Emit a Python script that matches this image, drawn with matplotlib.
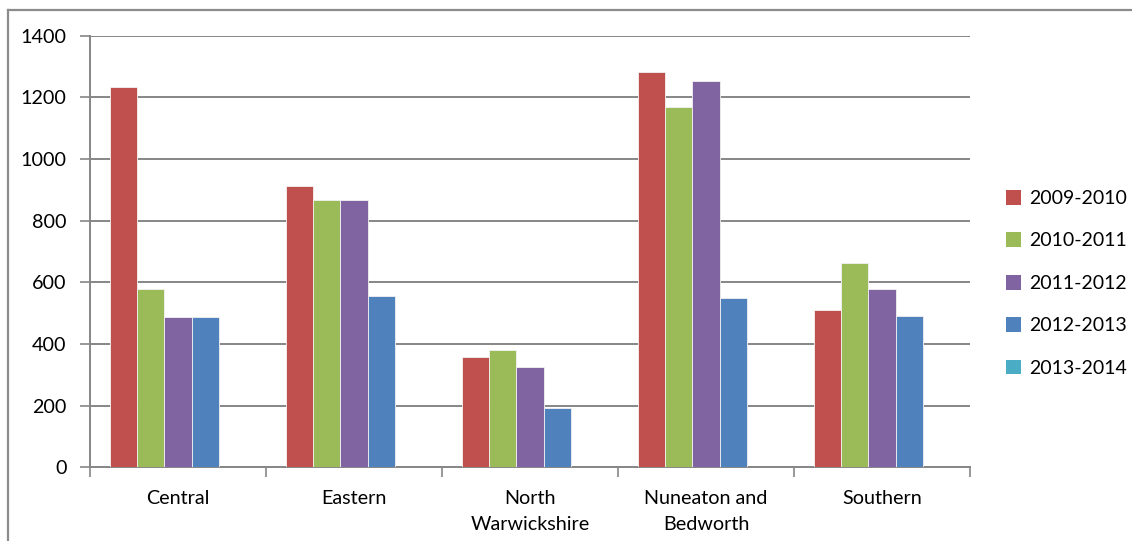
import numpy as np
import matplotlib
matplotlib.use("Agg")
import matplotlib.pyplot as plt
from matplotlib.lines import Line2D
from matplotlib.patches import Patch

plt.rcParams['font.family'] = ['Lato', 'DejaVu Sans']

regions = ["Central", "Eastern", "North\nWarwickshire", "Nuneaton and\nBedworth", "Southern"]
series_names = ["2009-2010", "2010-2011", "2011-2012", "2012-2013", "2013-2014"]
values_2009_10 = [1232, 913, 358, 1281, 510]
values_2010_11 = [579, 867, 381, 1169, 662]
values_2011_12 = [487, 866, 325, 1254, 578]
values_2012_13 = [486, 554, 192, 550, 491]
values_2013_14 = [0, 0, 0, 0, 0]
series_values = [values_2009_10, values_2010_11, values_2011_12, values_2012_13, values_2013_14]
colors = ["#C0504D", "#9BBB59", "#8064A2", "#4F81BD", "#4BACC6"]
y_ticks = [0, 200, 400, 600, 800, 1000, 1200, 1400]

W, H = 1132, 541
fig = plt.figure(figsize=(W / 100, H / 100), dpi=100)
ax = fig.add_axes([90 / W, 1 - 467.3 / H, 880 / W, (467.3 - 35.5) / H])

n = len(series_names)
bar_w = 1 / (n + 1.5)
x = np.arange(len(regions))
for j, (name, vals, col) in enumerate(zip(series_names, series_values, colors)):
    offs = -n * bar_w / 2 + (j + 0.5) * bar_w
    ax.bar(x + offs, vals, width=bar_w, color=col, edgecolor="#f2f2f2",
           linewidth=0.6, label=name, zorder=3)

grid_col = "#868686"
ax.set_xlim(-0.5, len(regions) - 0.5)
ax.set_ylim(0, 1400)
ax.set_yticks(y_ticks)
ax.yaxis.grid(True, color=grid_col, linewidth=1.4, zorder=0)
ax.set_axisbelow(True)

# category labels at centres, tick marks at category boundaries
ax.set_xticks(np.arange(-0.5, len(regions), 1.0))
ax.set_xticklabels([])
ax.set_xticks(x, minor=True)
ax.set_xticklabels(regions, minor=True, fontsize=14.2, linespacing=1.7)
ax.tick_params(axis="x", which="minor", length=0, pad=16)
ax.tick_params(axis="x", which="major", length=7, width=1.2, color=grid_col, direction="out")
ax.tick_params(axis="y", length=7, width=1.2, color=grid_col, direction="out",
               labelsize=14.2, pad=10)

for s in ["top", "right"]:
    ax.spines[s].set_visible(False)
for s in ["left", "bottom"]:
    ax.spines[s].set_color(grid_col)
    ax.spines[s].set_linewidth(1.4)

handles = [Patch(facecolor=c, edgecolor="none") for c in colors]
fig.legend(handles, series_names, loc="upper left",
           bbox_to_anchor=(996 / W, 1 - 180 / H), frameon=False,
           fontsize=14.0, handlelength=0.8, handleheight=0.8,
           handletextpad=0.4, labelspacing=1.3, borderpad=0)

# outer chart frame (top and left edges)
fig.add_artist(Line2D([8 / W, 1], [1 - 10 / H, 1 - 10 / H], color="#8c8c8c",
                      linewidth=1.6, transform=fig.transFigure))
fig.add_artist(Line2D([8 / W, 8 / W], [0, 1 - 10 / H], color="#8c8c8c",
                      linewidth=1.6, transform=fig.transFigure))

fig.savefig("out.png", dpi=100)
